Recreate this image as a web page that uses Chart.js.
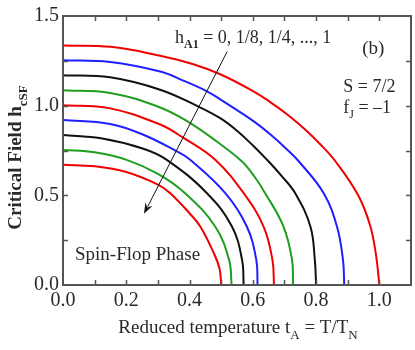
<!DOCTYPE html>
<html><head><meta charset="utf-8">
<script src="https://cdn.jsdelivr.net/npm/chart.js@4/dist/chart.umd.min.js"></script>
<style>html,body{margin:0;padding:0;background:#fff}canvas{display:block}</style>
</head><body>
<canvas id="c" width="415" height="350"></canvas>
<script>
// ---- data ----
// curves for h_A1 = 0, 1/8, 1/4, ..., 1 (outermost to innermost)
const hA1Values = ['0', '1/8', '1/4', '3/8', '1/2', '5/8', '3/4', '7/8', '1'];
const curveColors = ['#f00000', '#1f1fff', '#111111', '#1e9e1e', '#f00000', '#1f1fff', '#111111', '#1e9e1e', '#f00000'];

const tA_0 = [0, 0.15, 0.307, 0.412, 0.497, 0.602, 0.655, 0.708, 0.760, 0.813, 0.861, 0.933, 0.971, 0.990, 1.0];
const h_0  = [1.335, 1.328, 1.278, 1.231, 1.175, 1.080, 1.020, 0.952, 0.875, 0.785, 0.690, 0.500, 0.330, 0.16, 0];

const tA_1 = [0, 0.149, 0.307, 0.380, 0.455, 0.497, 0.602, 0.655, 0.708, 0.745, 0.824, 0.866, 0.885, 0.889];
const h_1  = [1.253, 1.243, 1.190, 1.140, 1.080, 1.035, 0.914, 0.840, 0.756, 0.690, 0.512, 0.326, 0.14, 0];

const tA_2 = [0, 0.149, 0.307, 0.428, 0.497, 0.550, 0.602, 0.645, 0.690, 0.734, 0.782, 0.796, 0.800];
const h_2  = [1.170, 1.158, 1.089, 0.995, 0.930, 0.860, 0.775, 0.698, 0.610, 0.512, 0.326, 0.14, 0];

const tA_3 = [0, 0.149, 0.307, 0.402, 0.486, 0.565, 0.605, 0.639, 0.697, 0.724, 0.727];
const h_3  = [1.086, 1.071, 0.990, 0.903, 0.800, 0.690, 0.605, 0.512, 0.326, 0.14, 0];

const tA_4 = [0, 0.149, 0.307, 0.381, 0.481, 0.571, 0.634, 0.662, 0.667];
const h_4  = [1.002, 0.985, 0.895, 0.820, 0.698, 0.512, 0.326, 0.14, 0];

const tA_5 = [0, 0.149, 0.254, 0.360, 0.402, 0.513, 0.581, 0.611, 0.615];
const h_5  = [0.920, 0.898, 0.838, 0.745, 0.698, 0.512, 0.326, 0.14, 0];

const tA_6 = [0, 0.120, 0.254, 0.328, 0.455, 0.534, 0.566, 0.571];
const h_6  = [0.836, 0.818, 0.760, 0.698, 0.512, 0.326, 0.14, 0];

const tA_7 = [0, 0.100, 0.201, 0.300, 0.386, 0.481, 0.525, 0.533];
const h_7  = [0.753, 0.740, 0.698, 0.620, 0.512, 0.326, 0.14, 0];

const tA_8 = [0, 0.100, 0.200, 0.300, 0.339, 0.400, 0.434, 0.476, 0.495, 0.500];
const h_8  = [0.670, 0.662, 0.630, 0.560, 0.512, 0.400, 0.326, 0.18, 0.09, 0];

const curveT = [tA_0, tA_1, tA_2, tA_3, tA_4, tA_5, tA_6, tA_7, tA_8];
const curveH = [h_0, h_1, h_2, h_3, h_4, h_5, h_6, h_7, h_8];

// tick values
const xTickLabels = [0.0, 0.2, 0.4, 0.6, 0.8, 1.0];
const xTickMarks = [0.1, 0.2, 0.3, 0.4, 0.5, 0.6, 0.7, 0.8, 0.9, 1.0];
const yTickLabels = [0.0, 0.5, 1.0, 1.5];
const yTickMarks = [0.25, 0.5, 0.75, 1.0, 1.25];

// annotations (data coordinates)
const arrowFrom = {t: 0.519, h: 1.302};
const arrowTo = {t: 0.256, h: 0.397};

const FONT = '"Liberation Serif", "Times New Roman", serif';
const TXT = '#2a2a2a';

function richWidth(ctx, parts, size) {
  let w = 0;
  parts.forEach(p => {
    ctx.font = (p.bold ? 'bold ' : '') + (p.sub ? Math.round(size * 0.68) : size) + 'px ' + FONT;
    w += ctx.measureText(p.t).width;
  });
  return w;
}
function drawRich(ctx, parts, x, y, size, align) {
  let w = richWidth(ctx, parts, size);
  let cx = align === 'center' ? x - w / 2 : x;
  ctx.textBaseline = 'alphabetic';
  ctx.textAlign = 'left';
  parts.forEach(p => {
    ctx.font = (p.bold ? 'bold ' : '') + (p.sub ? Math.round(size * 0.68) : size) + 'px ' + FONT;
    ctx.fillText(p.t, cx, y + (p.sub ? size * 0.32 : 0));
    cx += ctx.measureText(p.t).width;
  });
}

const decor = {
  id: 'decor',
  afterDatasetsDraw(chart) {
    const {ctx, chartArea: a, scales: {x, y}} = chart;
    ctx.save();
    // frame
    ctx.strokeStyle = '#555';
    ctx.lineWidth = 2;
    ctx.strokeRect(a.left, a.top, a.right - a.left, a.bottom - a.top);
    // inward ticks on all sides
    ctx.lineWidth = 1.5;
    ctx.beginPath();
    xTickMarks.forEach(v => {
      const px = Math.round(x.getPixelForValue(v)) + 0.5;
      ctx.moveTo(px, a.bottom); ctx.lineTo(px, a.bottom - 5);
      ctx.moveTo(px, a.top); ctx.lineTo(px, a.top + 5);
    });
    yTickMarks.forEach(v => {
      const py = Math.round(y.getPixelForValue(v)) + 0.5;
      ctx.moveTo(a.left, py); ctx.lineTo(a.left + 5, py);
      ctx.moveTo(a.right, py); ctx.lineTo(a.right - 5, py);
    });
    ctx.stroke();

    // arrow
    const x1 = x.getPixelForValue(arrowFrom.t), y1 = y.getPixelForValue(arrowFrom.h);
    const x2 = x.getPixelForValue(arrowTo.t), y2 = y.getPixelForValue(arrowTo.h);
    const ang = Math.atan2(y2 - y1, x2 - x1);
    ctx.strokeStyle = '#111'; ctx.fillStyle = '#111'; ctx.lineWidth = 1;
    ctx.beginPath(); ctx.moveTo(x1, y1);
    ctx.lineTo(x2 - 8 * Math.cos(ang), y2 - 8 * Math.sin(ang)); ctx.stroke();
    ctx.beginPath();
    ctx.moveTo(x2, y2);
    ctx.lineTo(x2 - 11 * Math.cos(ang) + 4 * Math.sin(ang), y2 - 11 * Math.sin(ang) - 4 * Math.cos(ang));
    ctx.lineTo(x2 - 7 * Math.cos(ang), y2 - 7 * Math.sin(ang));
    ctx.lineTo(x2 - 11 * Math.cos(ang) - 4 * Math.sin(ang), y2 - 11 * Math.sin(ang) + 4 * Math.cos(ang));
    ctx.closePath(); ctx.fill();

    ctx.fillStyle = TXT;
    // annotations
    drawRich(ctx, [{t: 'h'}, {t: 'A1', sub: true, bold: true}, {t: ' = ' + [hA1Values[0], hA1Values[1], hA1Values[2]].join(', ') + ', ..., ' + hA1Values[8]}],
      x.getPixelForValue(0.354), y.getPixelForValue(1.352), 18, 'left');
    drawRich(ctx, [{t: '(b)'}], x.getPixelForValue(0.946), y.getPixelForValue(1.29), 19, 'left');
    drawRich(ctx, [{t: 'S = 7/2'}], x.getPixelForValue(0.886), y.getPixelForValue(1.078), 18, 'left');
    drawRich(ctx, [{t: 'f'}, {t: 'J', sub: true}, {t: ' = \u20131'}], x.getPixelForValue(0.886), y.getPixelForValue(0.961), 18, 'left');
    drawRich(ctx, [{t: 'Spin-Flop Phase'}], x.getPixelForValue(0.038), y.getPixelForValue(0.14), 19, 'left');

    // axis titles
    drawRich(ctx, [{t: 'Reduced temperature t'}, {t: 'A', sub: true}, {t: ' = T/T'}, {t: 'N', sub: true}],
      (a.left + a.right) / 2 + 1, 333, 19, 'center');
    ctx.save();
    ctx.translate(21, (a.top + a.bottom) / 2 + 7);
    ctx.rotate(-Math.PI / 2);
    drawRich(ctx, [{t: 'Critical Field h', bold: true}, {t: 'cSF', sub: true, bold: true}], 0, 0, 19, 'center');
    ctx.restore();
    ctx.restore();
  }
};

const datasets = curveT.map((ts, i) => ({
  label: 'h_A1 = ' + hA1Values[i],
  data: ts.map((t, j) => ({x: t, y: curveH[i][j]})),
  borderColor: curveColors[i],
  borderWidth: 2,
  pointRadius: 0,
  fill: false,
  tension: 0.4
}));

new Chart(document.getElementById('c'), {
  type: 'line',
  data: {datasets},
  options: {
    responsive: false,
    animation: false,
    devicePixelRatio: 1,
    layout: {padding: {top: 16, right: 4, left: 0, bottom: 0}},
    plugins: {legend: {display: false}, tooltip: {enabled: false}, title: {display: false}},
    scales: {
      x: {
        type: 'linear', min: 0, max: 1.1,
        afterFit(s) { s.height = 65; },
        grid: {display: false, drawTicks: false},
        border: {display: false},
        ticks: {
          stepSize: 0.2, includeBounds: false, padding: 4,
          color: TXT, font: {family: FONT, size: 20},
          callback: v => xTickLabels.some(t => Math.abs(t - v) < 1e-6) ? Number(v).toFixed(1) : ''
        }
      },
      y: {
        type: 'linear', min: 0, max: 1.5,
        afterFit(s) { s.width = 63; },
        grid: {display: false, drawTicks: false},
        border: {display: false},
        ticks: {
          stepSize: 0.5, padding: 4,
          color: TXT, font: {family: FONT, size: 20},
          callback: v => yTickLabels.some(t => Math.abs(t - v) < 1e-6) ? Number(v).toFixed(1) : ''
        }
      }
    }
  },
  plugins: [decor]
});
</script>
</body></html>
